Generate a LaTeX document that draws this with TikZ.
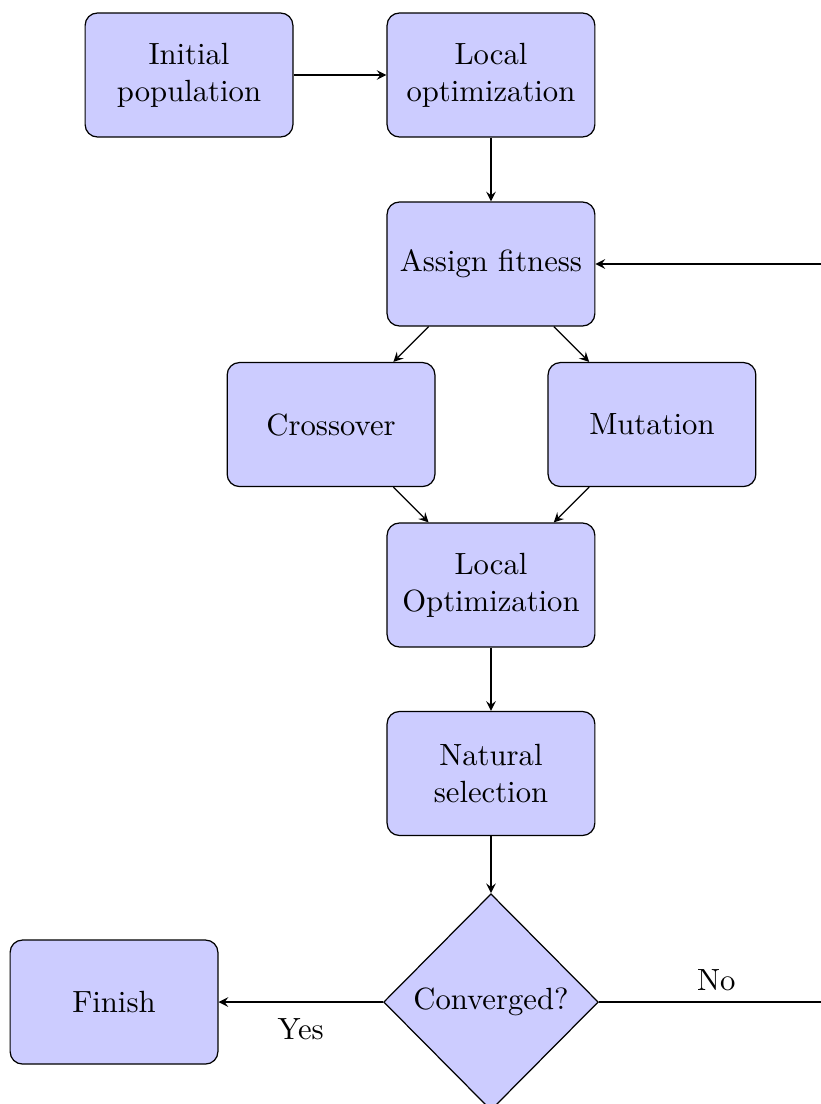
\documentclass[tikz,border=0pt]{standalone}
\usetikzlibrary{shapes.geometric,arrows}

\tikzset{
  stage/.style={draw,fill=blue!20,rounded corners,align=center,
    minimum width=2.38cm,minimum height=1.42cm},
  test/.style={draw,fill=blue!20,diamond,aspect=1,inner sep=1pt,
    minimum width=2.46cm,minimum height=2.48cm},
  flow/.style={draw,-stealth}
}

\begin{document}
\begin{tikzpicture}
  \useasboundingbox (0,0) rectangle (9.404,-12.646);
  \clip (0,0) rectangle (9.404,-12.646);

  \node[stage] (init) at (2.165,-0.859) {Initial\\population};
  \node[stage] (localA) at (5.624,-0.859) {Local\\optimization};
  \node[stage] (fitness) at (5.624,-3.024) {Assign fitness};
  \node[stage] (cross) at (3.792,-4.863) {Crossover};
  \node[stage] (mutate) at (7.468,-4.863) {Mutation};
  \node[stage] (localB) at (5.624,-6.701) {Local\\Optimization};
  \node[stage] (select) at (5.624,-8.860) {Natural\\selection};
  \node[test] (conv) at (5.624,-11.478) {Converged?};
  \node[stage] (finish) at (1.306,-11.478) {Finish};

  \coordinate (back) at (9.55,-11.478);

  \draw[flow] (init) -- (localA);
  \draw[flow] (localA) -- (fitness);
  \draw[flow] (fitness) -- (cross);
  \draw[flow] (fitness) -- (mutate);
  \draw[flow] (cross) -- (localB);
  \draw[flow] (mutate) -- (localB);
  \draw[flow] (localB) -- (select);
  \draw[flow] (select) -- (conv);
  \draw[flow] (conv) -- node[below=2pt] {Yes} (finish);
  \draw[flow] (conv) -- node[above] {No} (back) |- (fitness);
\end{tikzpicture}
\end{document}
